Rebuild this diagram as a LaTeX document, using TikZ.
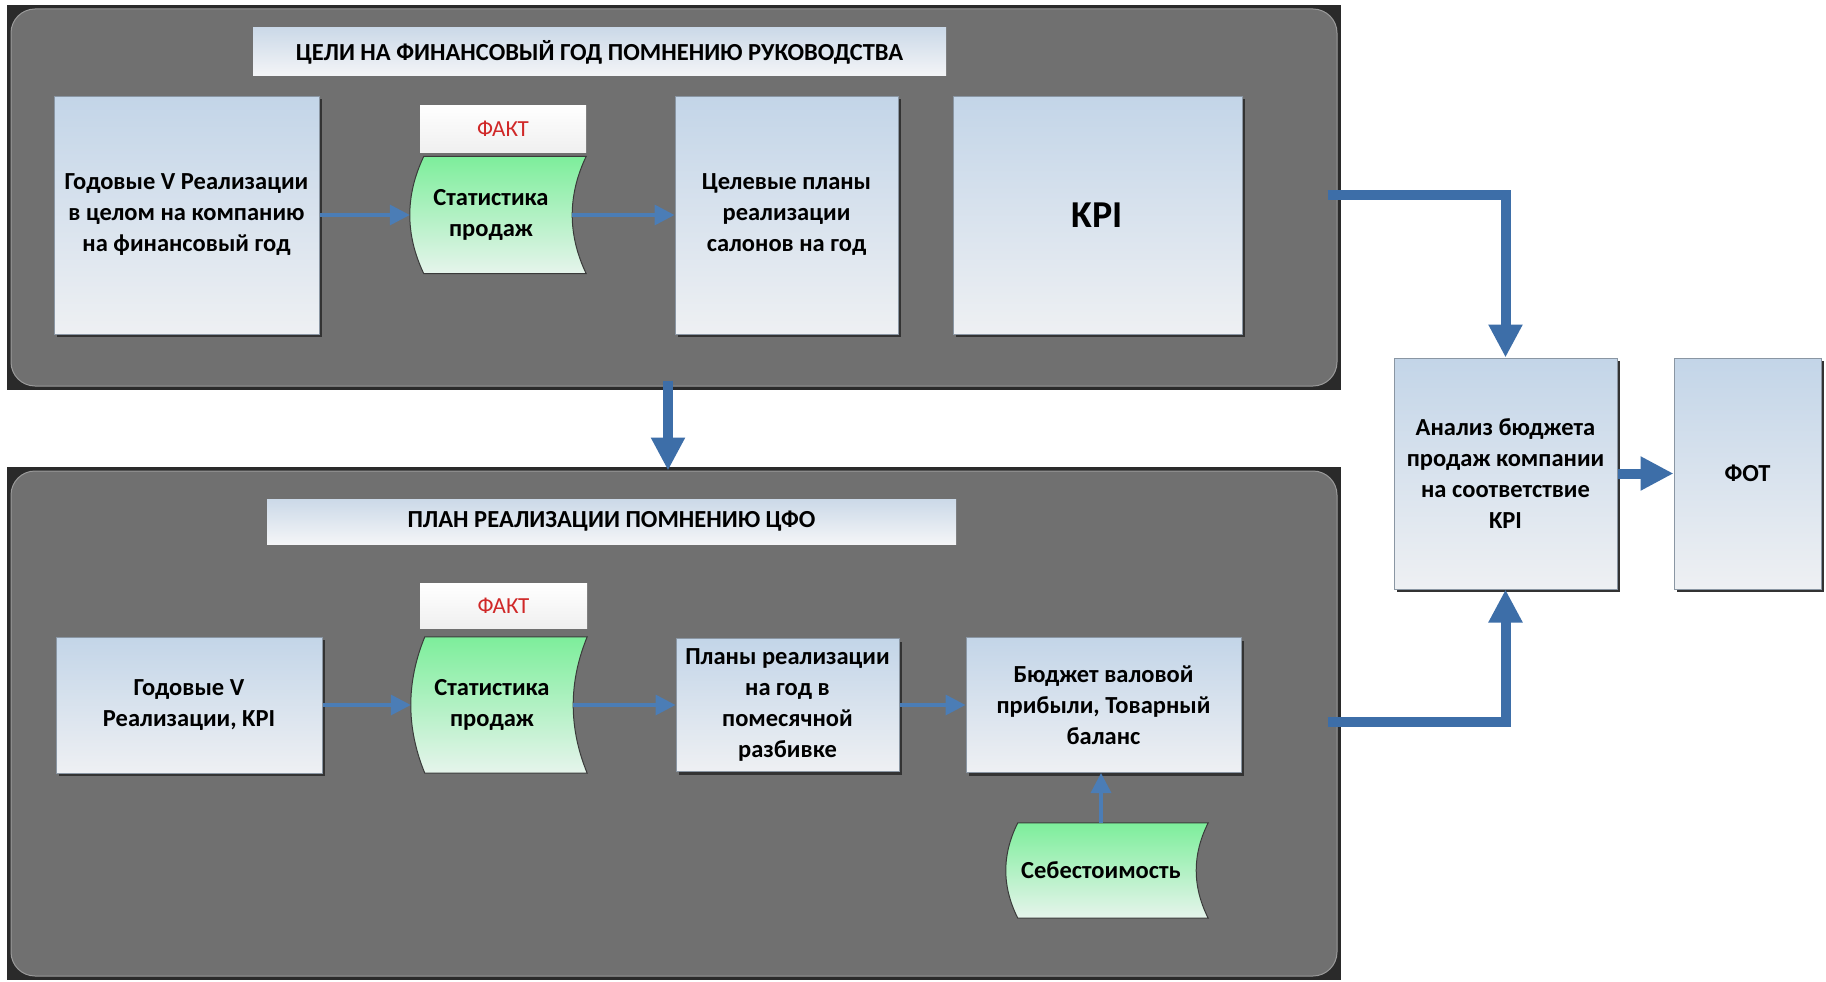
\documentclass[tikz,border=0pt]{standalone}
\usepackage{fontspec}
\setmainfont{Carlito}
\usetikzlibrary{arrows.meta,shadows,calc}

\pgfdeclarelayer{panels}
\pgfdeclarelayer{shapes}
\pgfsetlayers{panels,shapes,main}

\definecolor{panelgray}{HTML}{707070}
\definecolor{panelframe}{HTML}{2A2A2A}
\definecolor{panelrim}{HTML}{9A9A9A}
\definecolor{boxtop}{HTML}{C3D5E8}
\definecolor{boxbot}{HTML}{EEF0F3}
\definecolor{boxline}{HTML}{8A96A3}
\definecolor{titletop}{HTML}{CBD9E8}
\definecolor{titlebot}{HTML}{F4F5F7}
\definecolor{arrowblue}{HTML}{3D6EA8}
\definecolor{thinblue}{HTML}{4B7DB6}
\definecolor{greentop}{HTML}{7DEE9B}
\definecolor{greenbot}{HTML}{E6F4EC}
\definecolor{storedline}{HTML}{3A3A3A}
\definecolor{factred}{HTML}{D02828}

% stored-data symbol drawn round a named text node: convex left side, concave right side
% (#2 = how far the corners stand right of the bulge / hollow of the sides)
\newcommand\storedsymbol[2]{%
  \begin{pgfonlayer}{shapes}
    \shade[top color=greentop, bottom color=greenbot, draw=storedline, line width=1pt]
      ($(#1.north west)+(#2,0)$) -- ($(#1.north east)+(#2,0)$)
      .. controls ($(#1.north east)!1/3!(#1.south east)+(-#2/3,0)$)
             and ($(#1.north east)!2/3!(#1.south east)+(-#2/3,0)$)
      .. ($(#1.south east)+(#2,0)$)
      -- ($(#1.south west)+(#2,0)$)
      .. controls ($(#1.north west)!2/3!(#1.south west)+(-#2/3,0)$)
             and ($(#1.north west)!1/3!(#1.south west)+(-#2/3,0)$)
      .. ($(#1.north west)+(#2,0)$) -- cycle;
  \end{pgfonlayer}}

\begin{document}
\begin{tikzpicture}[
  x=1pt, y=-1pt,
  font=\bfseries\fontsize{24.5}{31}\selectfont,
  panel/.style={rectangle, inner sep=0pt, rounded corners=24pt, fill=panelgray,
    draw=panelrim, line width=1pt},
  procbox/.style={rectangle, inner sep=0pt, align=center, draw=boxline, line width=1pt,
    top color=boxtop, bottom color=boxbot,
    drop shadow={shadow xshift=3pt, shadow yshift=-3pt, fill=black!80, opacity=1}},
  titlebar/.style={rectangle, inner sep=0pt, align=center, top color=titletop,
    bottom color=titlebot},
  factbox/.style={rectangle, inner sep=0pt, align=center, top color=white,
    bottom color=black!6, text=factred, font=\fontsize{23}{28}\selectfont},
  storedtext/.style={rectangle, inner sep=0pt, align=center},
  flowarrow/.style={draw=arrowblue, line width=10pt,
    -{Triangle[width=32pt,length=33pt]}},
  linkarrow/.style={draw=thinblue, line width=3.5pt,
    -{Triangle[width=20pt,length=20pt]}}
]
\useasboundingbox (0,0) rectangle (1826,982);

% the two grey frames on a white ground
\begin{pgfonlayer}{panels}
  \fill[white] (0,0) rectangle (1826,982);
  \fill[panelframe] (7,5) rectangle (1341,390);
  \node[panel, minimum width=1326pt, minimum height=377pt] (top) at (674,197.5) {};
  \fill[panelframe] (7,467) rectangle (1341,980);
  \node[panel, minimum width=1326pt, minimum height=505pt] (bot) at (674,723.5) {};
\end{pgfonlayer}

% upper frame: management targets
\node[titlebar, minimum width=693pt, minimum height=48pt] (title1) at (599.5,52)
  {ЦЕЛИ НА ФИНАНСОВЫЙ ГОД ПОМНЕНИЮ РУКОВОДСТВА};
\node[procbox, minimum width=265pt, minimum height=238pt] (g1) at (186.5,215)
  {Годовые V Реализации\\в целом на компанию\\на финансовый год};
\node[factbox, minimum width=166pt, minimum height=47pt] (fact1) at (503,128.5) {ФАКТ};
\node[storedtext, minimum width=162pt, minimum height=117pt] (st1) at (491,215)
  {Статистика\\продаж};
\storedsymbol{st1}{14}
\node[procbox, minimum width=223pt, minimum height=238pt] (cel) at (786.5,215)
  {Целевые планы\\реализации\\салонов на год};
\node[procbox, minimum width=289pt, minimum height=238pt,
  font=\bfseries\fontsize{38}{44}\selectfont] (kpi) at (1097.5,215) {KPI};

% lower frame: plan by the financial responsibility centre
\node[titlebar, minimum width=689pt, minimum height=45pt] (title2) at (611.5,521.5)
  {ПЛАН РЕАЛИЗАЦИИ ПОМНЕНИЮ ЦФО};
\node[factbox, minimum width=167pt, minimum height=45pt] (fact2) at (503.5,605.5) {ФАКТ};
\node[procbox, minimum width=266pt, minimum height=136pt] (g2) at (189,705)
  {Годовые V\\Реализации, KPI};
\node[storedtext, minimum width=162pt, minimum height=136pt] (st2) at (492,705)
  {Статистика\\продаж};
\storedsymbol{st2}{14}
\node[procbox, minimum width=223pt, minimum height=133pt] (plan) at (787.5,705)
  {Планы реализации\\на год в\\помесячной\\разбивке};
\node[procbox, minimum width=275pt, minimum height=135pt] (bud) at (1103.5,705)
  {Бюджет валовой\\прибыли, Товарный\\баланс};
\node[storedtext, minimum width=190pt, minimum height=95pt] (seb) at (1101,870.5)
  {Себестоимость};
\storedsymbol{seb}{12}

% right-hand column
\node[procbox, minimum width=223pt, minimum height=231pt] (anal) at (1505.5,473.5)
  {Анализ бюджета\\продаж компании\\на соответствие\\KPI};
\node[procbox, minimum width=147pt, minimum height=231pt] (fot) at (1747.5,473.5) {ФОТ};

% links inside the frames
\draw[linkarrow] (g1.east) -- (st1.west);
\draw[linkarrow] (st1.east) -- (cel.west);
\draw[linkarrow] (g2.east) -- (st2.west);
\draw[linkarrow] (st2.east) -- (plan.west);
\draw[linkarrow] (plan.east) -- (bud.west);
\draw[linkarrow] (seb.north) -- (seb.north |- bud.south);

% main flow
\draw[flowarrow] ([xshift=-6pt, yshift=6pt]top.south) -- ([xshift=-6pt]bot.north);
\draw[flowarrow] ([xshift=-10pt, yshift=2.5pt]top.east) -| (anal.north);
\draw[flowarrow] ([xshift=-10pt, yshift=2pt]bot.east) -| (anal.south);
\draw[flowarrow] (anal.east) -- (fot.west);
\end{tikzpicture}
\end{document}
